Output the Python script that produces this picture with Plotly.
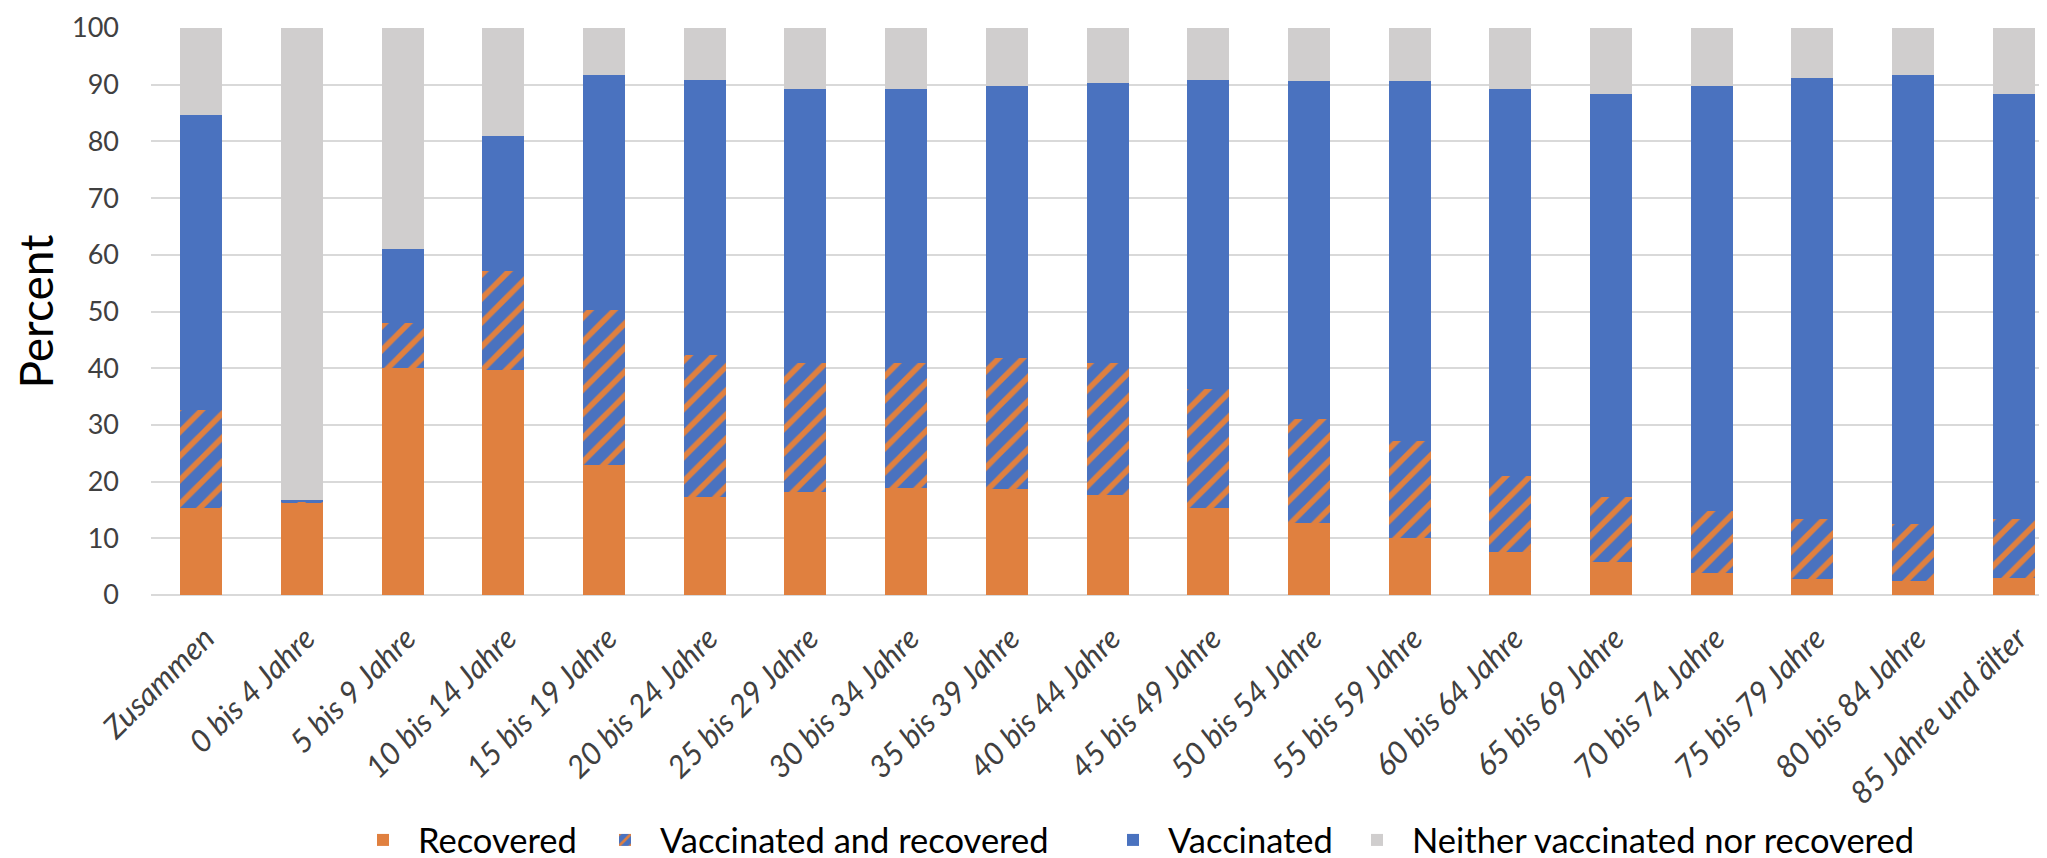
import plotly.graph_objects as go

categories = ["Zusammen", "0 bis 4 Jahre", "5 bis 9 Jahre", "10 bis 14 Jahre", "15 bis 19 Jahre",
              "20 bis 24 Jahre", "25 bis 29 Jahre", "30 bis 34 Jahre", "35 bis 39 Jahre",
              "40 bis 44 Jahre", "45 bis 49 Jahre", "50 bis 54 Jahre", "55 bis 59 Jahre",
              "60 bis 64 Jahre", "65 bis 69 Jahre", "70 bis 74 Jahre", "75 bis 79 Jahre",
              "80 bis 84 Jahre", "85 Jahre und älter"]

recovered = [15.4, 16.4, 40.1, 39.6, 22.9, 17.3, 18.1, 18.9, 18.7, 17.7, 15.4, 12.7, 10.1, 7.6, 5.8, 3.9, 2.8, 2.4, 3.0]
vacc_and_recovered = [17.2, 0.1, 7.8, 17.6, 27.4, 25.1, 22.8, 22.0, 23.1, 23.2, 20.9, 18.4, 17.0, 13.4, 11.4, 11.0, 10.6, 10.1, 10.4]
vaccinated = [52.1, 0.3, 13.1, 23.8, 41.4, 48.4, 48.4, 48.4, 48.0, 49.4, 54.5, 59.6, 63.6, 68.3, 71.2, 74.9, 77.8, 79.2, 75.0]
neither = [15.3, 83.2, 39.0, 19.0, 8.3, 9.2, 10.7, 10.7, 10.2, 9.7, 9.2, 9.3, 9.3, 10.7, 11.6, 10.2, 8.8, 8.3, 11.6]

y_ticks = [0, 10, 20, 30, 40, 50, 60, 70, 80, 90, 100]

ORANGE = "#E0803F"
BLUE = "#4A72BF"
GREY = "#D0CECE"
FONT = "Lato"

fig = go.Figure()
fig.add_trace(go.Bar(x=categories, y=recovered, name="Recovered",
                     marker=dict(color=ORANGE, line=dict(width=0)), legend="legend"))
fig.add_trace(go.Bar(x=categories, y=vacc_and_recovered, name="Vaccinated and recovered",
                     marker=dict(color=BLUE, line=dict(width=0),
                                 pattern=dict(shape="/", fgcolor=ORANGE, bgcolor=BLUE,
                                              size=17, solidity=0.33, fillmode="replace")),
                     legend="legend2"))
fig.add_trace(go.Bar(x=categories, y=vaccinated, name="Vaccinated",
                     marker=dict(color=BLUE, line=dict(width=0)), legend="legend3"))
fig.add_trace(go.Bar(x=categories, y=neither, name="Neither vaccinated nor recovered",
                     marker=dict(color=GREY, line=dict(width=0)), legend="legend4"))

W, H = 2047, 858
L, R, T, B = 143, 0, 20, 271
pw = W - L - R
ph = H - T - B

IW = 60


def lx(text_px):
    return (text_px - IW - 18 - L) / pw


leg_y = (H - B - 832) / ph
legend_common = dict(orientation="h", yanchor="middle", xanchor="left", y=leg_y,
                     font=dict(family=FONT, size=34.5, color="#000000"),
                     bgcolor="rgba(0,0,0,0)", borderwidth=0, itemwidth=IW)

fig.update_layout(
    width=W, height=H,
    margin=dict(l=L, r=R, t=T, b=B, autoexpand=False),
    barmode="stack",
    bargap=0.583,
    showlegend=True,
    plot_bgcolor="white", paper_bgcolor="white",
    font=dict(family=FONT, color="#404040"),
    legend=dict(x=lx(418), **legend_common),
    legend2=dict(x=lx(660), **legend_common),
    legend3=dict(x=lx(1168), **legend_common),
    legend4=dict(x=lx(1412), **legend_common),
    xaxis=dict(range=[-0.5, 18.41], tickangle=-45, showgrid=False, showline=False,
               tickfont=dict(family=FONT, size=31, color="#404040", style="italic"),
               ticks="", ticklabelstandoff=18, ticklabelshift=4, automargin=False),
    yaxis=dict(range=[0, 100], tickvals=y_ticks, showgrid=True, gridcolor="#D9D9D9",
               gridwidth=2, zeroline=True, zerolinecolor="#D9D9D9", zerolinewidth=2,
               showline=False, ticks="", ticklabelstandoff=31,
               tickfont=dict(family=FONT, size=27, color="#404040"),
               title=dict(text="Percent", font=dict(family=FONT, size=46, color="#000000"),
                          standoff=13),
               automargin=False),
)

fig.write_html("out.html")
